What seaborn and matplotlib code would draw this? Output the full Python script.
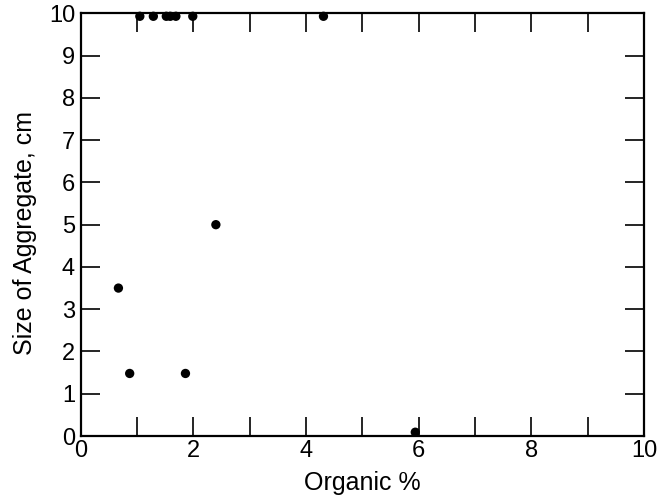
import matplotlib
matplotlib.use("Agg")
import matplotlib.pyplot as plt
import seaborn as sns
import pandas as pd

# values
organic = [0.67, 0.87, 1.05, 1.29, 1.52, 1.59, 1.69, 1.99, 1.86, 2.40, 4.31, 5.94]
aggregate = [3.5, 1.48, 9.93, 9.93, 9.93, 9.93, 9.93, 9.93, 1.48, 5.0, 9.93, 0.09]

df = pd.DataFrame({"Organic %": organic, "Size of Aggregate, cm": aggregate})

sns.set_style("ticks")
plt.rcParams["font.family"] = ["Liberation Sans", "DejaVu Sans"]
plt.rcParams["text.color"] = "black"
plt.rcParams["axes.labelcolor"] = "black"

fig = plt.figure(figsize=(6.57, 5.01), dpi=100)
ax = fig.add_axes([0.1228, 0.1297, 0.8574, 0.8437])

sns.scatterplot(data=df, x="Organic %", y="Size of Aggregate, cm", ax=ax,
                color="black", s=45, edgecolor="none", clip_on=False, zorder=3)

ax.set_xlim(0, 10)
ax.set_ylim(0, 10)
ax.set_xticks(range(0, 11, 2))
ax.set_xticks(range(1, 10, 2), minor=True)
ax.set_yticks(range(0, 11))

for side in ["top", "right", "bottom", "left"]:
    ax.spines[side].set_linewidth(1.6)
    ax.spines[side].set_color("black")

ax.tick_params(which="both", direction="in", length=14, width=1.2,
               top=True, right=True, labelsize=17, pad=4, colors="black")
ax.tick_params(axis="x", pad=3)
ax.set_xlabel("Organic %", fontsize=18, labelpad=6)
ax.set_ylabel("Size of Aggregate, cm", fontsize=18)
ax.yaxis.set_label_coords(-0.078, 0.48)

fig.savefig("out.png", dpi=100)
